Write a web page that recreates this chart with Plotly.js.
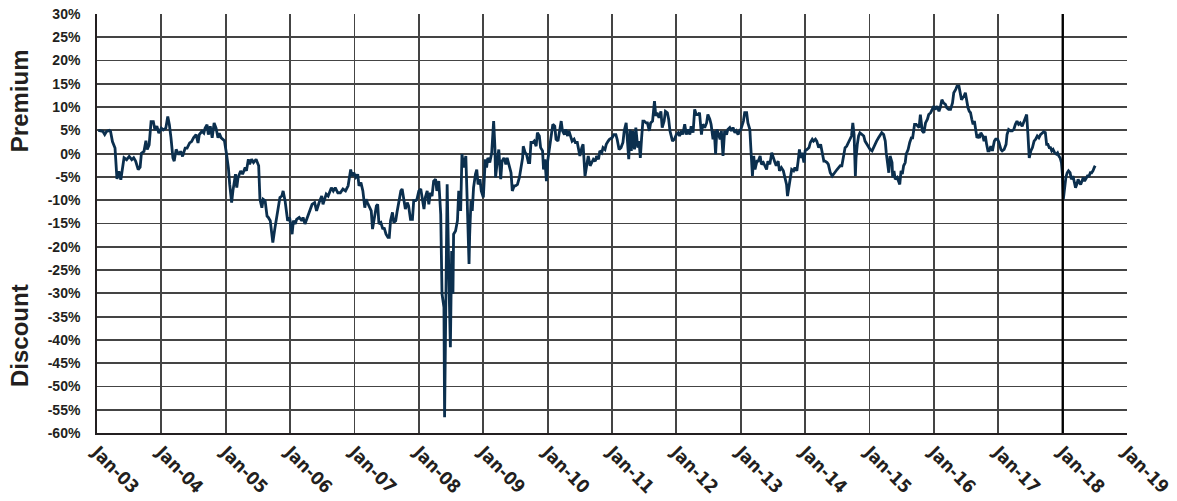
<!DOCTYPE html>
<html>
<head>
<meta charset="utf-8">
<script src="https://cdn.plot.ly/plotly-3.0.1.min.js"></script>
<style>
html,body{margin:0;padding:0;background:#fff;}
#chart{width:1177px;height:501px;}
</style>
</head>
<body>
<div id="chart"></div>
<script>
// decimal years (time) and premium/discount (%)
const years = [
2003.02,2003.06,2003.09,2003.12,2003.15,2003.19,2003.21,2003.24,2003.28,2003.31,2003.34,2003.37,2003.40,2003.42,2003.46,2003.50,2003.54,2003.57,2003.60,2003.64,2003.67,2003.69,2003.73,2003.76,2003.78,2003.81,2003.84,2003.875,2003.90,2003.93,2003.96,
2004.0,2004.03,2004.07,2004.10,2004.125,2004.15,2004.18,2004.20,2004.23,2004.27,2004.30,2004.33,2004.37,2004.40,2004.44,2004.47,2004.50,2004.54,2004.57,2004.59,2004.63,2004.66,2004.68,2004.71,2004.73,2004.76,2004.79,2004.82,2004.85,2004.88,2004.90,2004.93,2004.96,2004.98,
2005.01,2005.04,2005.06,2005.09,2005.11,2005.15,2005.17,2005.19,2005.23,2005.26,2005.30,2005.32,2005.35,2005.37,2005.40,2005.43,2005.47,2005.51,2005.53,2005.56,2005.58,2005.61,2005.64,2005.66,2005.69,2005.72,2005.73,2005.76,2005.79,2005.81,2005.84,2005.87,2005.89,2005.92,2005.94,2005.96,2005.99,
2006.03,2006.05,2006.08,2006.10,2006.14,2006.18,2006.20,2006.23,2006.27,2006.30,2006.34,2006.38,2006.41,2006.45,2006.49,2006.51,2006.56,2006.59,2006.64,2006.67,2006.70,2006.74,2006.78,2006.82,2006.86,2006.90,2006.94,2006.96,2006.99,
2007.02,2007.04,2007.05,2007.07,2007.10,2007.13,2007.16,2007.18,2007.20,2007.23,2007.26,2007.28,2007.31,2007.34,2007.36,2007.38,2007.41,2007.44,2007.46,2007.49,2007.52,2007.54,2007.56,2007.59,2007.61,2007.64,2007.66,2007.69,2007.72,2007.74,2007.77,2007.79,2007.82,2007.84,2007.87,2007.90,2007.92,2007.95,2007.97,
2008.0,2008.03,2008.05,2008.08,2008.10,2008.13,2008.155,2008.18,2008.205,2008.23,2008.26,2008.28,2008.31,2008.34,2008.36,2008.39,2008.40,2008.42,2008.44,2008.47,2008.49,2008.51,2008.53,2008.54,2008.57,2008.60,2008.62,2008.65,2008.67,2008.70,2008.73,2008.75,2008.78,2008.79,2008.81,2008.83,2008.85,2008.88,2008.90,2008.92,2008.95,2008.97,
2009.0,2009.03,2009.05,2009.07,2009.10,2009.13,2009.16,2009.18,2009.19,2009.22,2009.24,2009.27,2009.29,2009.32,2009.35,2009.37,2009.40,2009.43,2009.45,2009.48,2009.50,2009.53,2009.56,2009.58,2009.61,2009.62,2009.65,2009.67,2009.70,2009.72,2009.74,2009.77,2009.79,2009.82,2009.84,2009.87,2009.89,2009.92,2009.935,2009.955,2009.98,
2010.0,2010.02,2010.04,2010.06,2010.08,2010.11,2010.13,2010.16,2010.18,2010.21,2010.23,2010.26,2010.28,2010.31,2010.33,2010.36,2010.38,2010.41,2010.43,2010.46,2010.48,2010.50,2010.53,2010.55,2010.58,2010.61,2010.63,2010.66,2010.69,2010.71,2010.74,2010.76,2010.79,2010.81,2010.84,2010.86,2010.89,2010.91,2010.94,2010.96,
2011.0,2011.03,2011.06,2011.08,2011.11,2011.14,2011.17,2011.19,2011.22,2011.24,2011.26,2011.28,2011.30,2011.32,2011.35,2011.37,2011.40,2011.42,2011.44,2011.46,2011.48,2011.50,2011.53,2011.55,2011.58,2011.60,2011.63,2011.66,2011.68,2011.70,2011.73,2011.76,2011.78,2011.81,2011.83,2011.86,2011.88,2011.90,2011.94,2011.97,
2012.0,2012.03,2012.05,2012.08,2012.10,2012.13,2012.155,2012.18,2012.21,2012.23,2012.26,2012.285,2012.31,2012.34,2012.36,2012.39,2012.41,2012.44,2012.47,2012.49,2012.52,2012.54,2012.57,2012.59,2012.61,2012.63,2012.66,2012.68,2012.70,2012.725,2012.75,2012.78,2012.80,2012.83,2012.855,2012.88,2012.91,2012.93,2012.96,2012.98,
2013.0,2013.04,2013.06,2013.09,2013.11,2013.14,2013.155,2013.18,2013.20,2013.22,2013.25,2013.27,2013.30,2013.32,2013.35,2013.37,2013.40,2013.42,2013.45,2013.48,2013.50,2013.53,2013.55,2013.58,2013.60,2013.63,2013.66,2013.68,2013.71,2013.725,2013.75,2013.77,2013.79,2013.82,2013.84,2013.87,2013.89,2013.91,2013.93,2013.95,2013.98,
2014.0,2014.03,2014.06,2014.08,2014.11,2014.13,2014.16,2014.18,2014.21,2014.24,2014.26,2014.29,2014.31,2014.34,2014.36,2014.39,2014.42,2014.44,2014.47,2014.495,2014.52,2014.545,2014.57,2014.59,2014.62,2014.645,2014.67,2014.695,2014.72,2014.74,2014.76,2014.78,2014.79,2014.81,2014.83,2014.85,2014.88,2014.91,2014.93,2014.96,2014.98,
2015.01,2015.04,2015.06,2015.09,2015.11,2015.14,2015.17,2015.19,2015.22,2015.245,2015.26,2015.28,2015.30,2015.32,2015.35,2015.36,2015.38,2015.40,2015.43,2015.45,2015.47,2015.49,2015.51,2015.53,2015.555,2015.57,2015.60,2015.625,2015.65,2015.67,2015.70,2015.725,2015.75,2015.77,2015.79,2015.82,2015.845,2015.87,2015.90,2015.92,2015.95,2015.97,
2016.0,2016.02,2016.05,2016.08,2016.10,2016.125,2016.15,2016.18,2016.20,2016.23,2016.26,2016.29,2016.31,2016.34,2016.36,2016.39,2016.41,2016.43,2016.45,2016.47,2016.49,2016.51,2016.53,2016.55,2016.57,2016.59,2016.61,2016.63,2016.65,2016.67,2016.69,2016.71,2016.73,2016.76,2016.78,2016.80,2016.82,2016.84,2016.86,2016.885,2016.91,2016.94,2016.96,2016.99,
2017.01,2017.04,2017.06,2017.09,2017.12,2017.135,2017.16,2017.19,2017.215,2017.24,2017.265,2017.29,2017.315,2017.34,2017.37,2017.40,2017.42,2017.44,2017.46,2017.48,2017.505,2017.53,2017.555,2017.58,2017.605,2017.63,2017.655,2017.68,2017.705,2017.73,2017.75,2017.77,2017.79,2017.81,2017.83,2017.85,2017.875,2017.90,2017.92,2017.94,2017.96,2017.98,2017.995,
2018.01,2018.03,2018.05,2018.07,2018.09,2018.115,2018.135,2018.16,2018.18,2018.20,2018.22,2018.24,2018.26,2018.28,2018.30,2018.32,2018.34,2018.36,2018.385,2018.41,2018.43,2018.45,2018.47,2018.49,2018.505
];
const premium = [
5.0,4.9,4.8,4.1,4.8,5.0,4.8,2.6,1.2,-5.4,-3.8,-5.6,-2.0,-0.9,-1.3,-0.6,-1.3,-0.9,-1.6,-3.4,-2.9,0.1,0.5,2.8,0.9,1.9,6.9,6.9,5.1,5.9,4.4,
5.5,5.1,5.5,8.0,6.2,3.4,-0.9,-1.6,0.9,-0.2,0.5,-0.6,1.2,1.2,2.3,2.6,3.4,4.1,2.3,4.1,4.8,4.4,5.5,6.2,4.1,5.9,3.4,6.6,5.5,3.4,4.4,3.4,3.0,2.8,
0.0,-3.1,-6.6,-10.5,-8.0,-4.4,-7.3,-5.1,-3.7,-4.4,-3.0,-3.7,-1.2,-2.3,-1.2,-1.9,-1.2,-2.6,-9.8,-11.6,-9.8,-10.1,-13.4,-13.7,-14.4,-17.3,-19.1,-16.2,-13.7,-11.2,-9.4,-9.1,-8.0,-10.1,-12.3,-14.4,-13.7,
-17.3,-14.4,-15.1,-14.1,-13.7,-14.4,-13.7,-15.1,-13.7,-12.3,-10.9,-10.5,-12.3,-10.5,-9.1,-10.9,-8.7,-9.1,-7.3,-8.0,-7.3,-8.4,-8.4,-7.6,-8.0,-6.9,-3.4,-4.8,-4.1,
-5.1,-4.8,-4.4,-6.9,-6.2,-8.0,-11.6,-9.8,-10.5,-11.6,-12.3,-16.2,-13.4,-11.2,-10.9,-15.1,-14.8,-16.2,-15.9,-17.3,-18.0,-18.0,-14.4,-12.6,-14.8,-14.4,-12.6,-10.5,-8.0,-7.6,-10.5,-11.9,-10.5,-11.2,-14.1,-14.1,-10.1,-10.1,-9.8,
-8.0,-7.6,-9.4,-11.9,-9.4,-8.0,-10.9,-8.4,-9.1,-5.9,-5.5,-8.0,-5.9,-13.0,-30.1,-33.0,-56.6,-32.3,-6.6,-28.7,-41.6,-20.9,-30.1,-17.3,-16.6,-14.4,-8.0,-12.3,-0.1,-3.0,-0.5,-9.4,-23.7,-17.3,-10.1,-12.3,-7.3,-4.4,-3.4,-6.6,-5.5,-8.0,
-9.4,-1.2,-3.0,-0.9,-1.9,0.2,7.0,1.3,-5.1,-1.2,0.9,-5.5,-1.6,-0.9,-2.3,-0.9,-2.3,-4.1,-8.0,-6.9,-6.9,-6.6,-5.1,-3.0,-0.9,1.6,0.2,-0.1,-1.9,-1.9,2.4,2.4,2.7,1.6,4.5,3.8,1.3,0.6,-3.4,-1.2,-5.9,
-1.6,0.2,2.7,4.1,6.3,5.9,3.1,2.7,4.5,7.0,4.9,4.1,5.2,3.8,4.9,3.8,2.7,3.1,2.4,2.4,0.9,-0.5,1.3,2.0,-4.8,-1.6,-0.5,-2.6,-1.9,-1.2,-1.6,-0.5,-1.2,0.6,0.2,1.3,0.9,2.0,2.7,3.1,
3.4,4.1,4.1,3.1,0.9,1.3,2.4,4.9,6.6,2.4,-1.2,5.2,0.6,4.9,0.9,5.6,1.3,2.7,-0.9,3.4,7.0,7.0,6.6,6.6,4.9,6.6,7.0,11.3,8.1,8.8,7.7,9.1,5.6,7.0,9.1,8.8,7.4,4.9,2.7,3.1,
4.1,4.5,3.8,4.9,4.1,6.3,4.1,5.2,4.1,5.9,4.5,9.5,8.4,8.4,8.8,4.1,6.3,5.6,6.6,8.4,7.4,6.3,3.1,4.9,-0.1,5.2,4.1,3.1,4.9,-0.5,4.9,4.1,5.2,5.6,4.9,5.6,4.5,4.9,4.1,4.9,
5.2,7.0,8.8,8.8,6.6,5.2,1.3,-4.8,-0.5,-3.4,-1.6,-1.6,-0.5,-2.3,-1.9,-2.6,-3.4,-1.6,-2.3,0.2,-0.9,-1.9,-2.6,-1.6,-3.7,-3.0,-3.7,-4.8,-6.6,-9.1,-7.3,-5.1,-3.4,-3.7,-3.0,-3.7,-1.6,0.9,-0.9,0.2,-1.9,
0.6,0.9,1.3,2.4,3.1,2.7,3.1,2.7,1.3,2.0,0.2,-1.6,-1.6,-1.9,-2.3,-4.1,-4.8,-4.4,-3.7,-3.4,-3.0,-2.6,-2.6,-1.2,1.3,1.6,2.4,3.4,3.8,6.6,4.1,-4.8,-0.9,2.0,3.8,4.5,4.1,3.8,2.7,2.0,1.6,
0.9,0.6,1.3,2.0,2.7,3.4,4.1,4.5,4.1,2.7,0.2,-1.6,-4.1,-0.5,-1.9,-5.1,-3.7,-5.5,-5.1,-5.9,-6.6,-3.7,-4.4,-2.6,-1.9,-0.1,0.9,2.4,3.4,3.4,6.3,6.3,5.9,5.6,8.4,4.9,4.5,6.6,7.4,8.4,8.8,9.5,
10.2,9.5,10.2,9.1,9.9,11.6,10.9,10.6,9.9,9.5,9.5,10.9,13.1,13.8,14.5,14.5,12.7,11.6,12.0,12.4,13.1,11.3,9.9,9.1,8.8,7.4,6.3,7.0,4.5,3.4,3.8,3.4,4.5,3.8,2.7,3.8,2.0,0.6,0.6,1.6,0.6,2.7,3.1,3.1,
2.4,0.9,0.6,0.9,2.0,4.1,5.2,4.9,4.9,5.2,6.3,7.0,6.3,6.6,5.9,7.0,8.1,8.4,4.1,-0.9,0.6,1.3,2.7,3.1,3.8,3.4,4.1,4.5,4.7,4.5,2.0,2.0,1.3,1.3,0.6,0.9,0.2,-0.1,0.2,-0.5,-0.9,-1.9,-4.4,
-9.8,-7.3,-5.1,-4.1,-3.7,-4.1,-5.5,-4.8,-5.9,-7.3,-6.6,-5.5,-6.2,-6.6,-5.9,-5.1,-5.9,-5.5,-4.8,-4.8,-4.1,-4.1,-3.7,-3.0,-2.6
];
const yTickValues = [30,25,20,15,10,5,0,-5,-10,-15,-20,-25,-30,-35,-40,-45,-50,-55,-60];
const yTickLabels = ['30%','25%','20%','15%','10%','5%','0%','-5%','-10%','-15%','-20%','-25%','-30%','-35%','-40%','-45%','-50%','-55%','-60%'];
const xTickYears = [2003,2004,2005,2006,2007,2008,2009,2010,2011,2012,2013,2014,2015,2016,2017,2018,2019];
const xTickLabels = ['Jan-03','Jan-04','Jan-05','Jan-06','Jan-07','Jan-08','Jan-09','Jan-10','Jan-11','Jan-12','Jan-13','Jan-14','Jan-15','Jan-16','Jan-17','Jan-18','Jan-19'];
const axisTitles = ['Premium','Discount'];

function toDate(dy){
  const y = Math.floor(dy);
  const ms = Date.UTC(y,0,1) + (dy - y) * 365.25 * 86400000;
  return new Date(ms).toISOString().slice(0,19).replace('T',' ');
}
const xDates = years.map(toDate);
const xTickVals = xTickYears.map(y => y + '-01-01');

const trace = {
  x: xDates, y: premium, type: 'scatter', mode: 'lines',
  line: {color: '#0b2f4e', width: 2.8},
  hoverinfo: 'skip'
};

const tickFontY = {family: 'Liberation Sans, Arial, sans-serif', size: 14, color: '#231f20', weight: 'bold'};
const tickFontX = {family: 'Liberation Sans Narrow, DejaVu Sans Condensed, Arial Narrow, sans-serif', size: 18, color: '#231f20', weight: 'bold'};
const titleFont = {family: 'Liberation Sans, Arial, sans-serif', size: 24, color: '#231f20', weight: 'bold'};

const layout = {
  width: 1177, height: 501,
  margin: {l: 97, r: 50, t: 14, b: 68},
  paper_bgcolor: '#ffffff', plot_bgcolor: '#ffffff',
  showlegend: false,
  xaxis: {
    type: 'date',
    range: ['2003-01-01', '2019-01-01'],
    tickvals: xTickVals, ticktext: xTickLabels,
    tickangle: 45,
    tickfont: tickFontX,
    showgrid: true, gridcolor: '#444444', gridwidth: 1.8,
    showline: true, linecolor: '#231f20', linewidth: 1.8,
    ticks: '', zeroline: false, fixedrange: true
  },
  yaxis: {
    range: [-60, 30],
    tickvals: yTickValues, ticktext: yTickLabels,
    tickfont: tickFontY,
    ticklabelstandoff: 12,
    showgrid: true, gridcolor: '#444444', gridwidth: 1.8,
    showline: true, linecolor: '#231f20', linewidth: 1.8,
    ticks: '', ticklen: 0, zeroline: false, fixedrange: true
  },
  shapes: [
    {type: 'line', xref: 'x', yref: 'paper', x0: '2018-01-01', x1: '2018-01-01', y0: 0, y1: 1,
     line: {color: '#000000', width: 2.2}}
  ],
  annotations: [
    {text: axisTitles[0], xref: 'paper', yref: 'paper', x: -0.0757, y: 0.792, textangle: -90,
     showarrow: false, xanchor: 'center', yanchor: 'middle', font: titleFont},
    {text: axisTitles[1], xref: 'paper', yref: 'paper', x: -0.0757, y: 0.2315, textangle: -90,
     showarrow: false, xanchor: 'center', yanchor: 'middle', font: titleFont}
  ]
};

Plotly.newPlot('chart', [trace], layout, {displayModeBar: false, staticPlot: true});
</script>
</body>
</html>
